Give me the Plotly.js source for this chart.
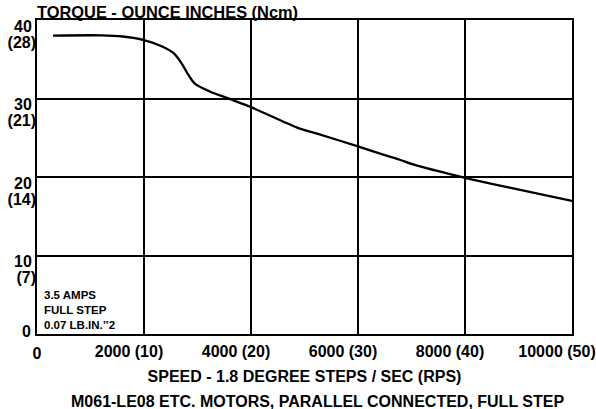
<!DOCTYPE html>
<html>
<head>
<meta charset="utf-8">
<script src="https://cdn.plot.ly/plotly-3.0.1.min.js"></script>
<style>html,body{margin:0;padding:0;background:#fff;}#chart{width:596px;height:409px;}</style>
</head>
<body>
<div id="chart"></div>
<script>
// Data
const speedSteps = [300, 1200, 1600, 2000, 2350, 2550, 2700, 2830, 2950, 3230, 3600, 4000, 4900, 5220, 6000, 6400, 6780, 7030, 8000, 8900, 10000];
const torqueOzIn = [38.0, 38.05, 37.9, 37.45, 36.6, 35.8, 34.5, 33.0, 31.9, 30.9, 29.95, 28.9, 26.2, 25.55, 23.9, 23.0, 22.2, 21.6, 19.9, 18.55, 16.95];

const xTickVals = [2000, 4000, 6000, 8000, 10000];
const xTickText = ["2000 (10)", "4000 (20)", "6000 (30)", "8000 (40)", "10000 (50)"];
const xZeroVal = [0];
const xZeroText = ["0"];

const yTickVals = [10, 20, 30, 40];
const yTickOz = ["10", "20", "30", "40"];
const yTickNcm = ["(7)", "(14)", "(21)", "(28)"];
const yZeroVal = [0];
const yZeroText = ["0"];

const noteLines = ["3.5 AMPS", "FULL STEP", "0.07 LB.IN.\u2019\u20192"];
const titleText = "TORQUE - OUNCE INCHES (Ncm)";
const xTitleText = "SPEED - 1.8 DEGREE STEPS / SEC (RPS)";
const subTitleText = "M061-LE08 ETC. MOTORS, PARALLEL CONNECTED, FULL STEP";

const FONT = "Arial, 'Liberation Sans', sans-serif";
const bold16 = {family: FONT, size: 16, color: "#000", weight: 700};

const traces = [
  {x: speedSteps, y: torqueOzIn, type: "scatter", mode: "lines",
   line: {color: "#000", width: 2.3, shape: "spline", smoothing: 0.9},
   hoverinfo: "skip", showlegend: false},
  {x: [], y: [], xaxis: "x2", yaxis: "y2", type: "scatter", mode: "lines", showlegend: false, hoverinfo: "skip"},
  {x: [], y: [], xaxis: "x", yaxis: "y3", type: "scatter", mode: "lines", showlegend: false, hoverinfo: "skip"}
];

const baseX = {range: [0, 10000], fixedrange: true, zeroline: false, ticks: "", tickfont: bold16};
const baseY = {range: [0, 40], fixedrange: true, zeroline: false, ticks: "", tickfont: bold16};

const layout = {
  width: 596, height: 409,
  margin: {l: 37, r: 24, t: 20, b: 75, pad: 0},
  paper_bgcolor: "#fff", plot_bgcolor: "#fff",
  showlegend: false,
  font: {family: FONT, color: "#000"},
  title: {text: titleText, font: {family: FONT, size: 16.4, color: "#000", weight: 700},
          xref: "container", yref: "container",
          x: 37 / 596, xanchor: "left", y: 1 - 12 / 409, yanchor: "middle", pad: {t: 0, b: 0, l: 0, r: 0}},
  xaxis: Object.assign({}, baseX, {
    tickmode: "array", tickvals: xTickVals, ticktext: xTickText, ticklabelshift: -15, ticklabelstandoff: 2,
    showgrid: true, gridcolor: "#000", gridwidth: 2,
    showline: true, linecolor: "#000", linewidth: 2, mirror: true,
    anchor: "y",
    title: {text: xTitleText, font: bold16, standoff: 12}
  }),
  xaxis2: Object.assign({}, baseX, {
    overlaying: "x", anchor: "y", side: "bottom",
    tickmode: "array", tickvals: xZeroVal, ticktext: xZeroText, ticklabelstandoff: 8,
    showgrid: false, showline: false
  }),
  yaxis: Object.assign({}, baseY, {
    tickmode: "array", tickvals: yTickVals, ticktext: yTickOz, ticklabelshift: 6,
    showgrid: true, gridcolor: "#000", gridwidth: 2,
    showline: true, linecolor: "#000", linewidth: 2, mirror: true,
    anchor: "x"
  }),
  yaxis2: Object.assign({}, baseY, {
    overlaying: "y", anchor: "x", side: "left",
    tickmode: "array", tickvals: yTickVals, ticktext: yTickNcm, ticklabelshift: 22,
    showgrid: false, showline: false
  }),
  yaxis3: Object.assign({}, baseY, {
    overlaying: "y", anchor: "x", side: "left",
    tickmode: "array", tickvals: yZeroVal, ticktext: yZeroText, ticklabelshift: -3, ticklabelstandoff: 5,
    showgrid: false, showline: false
  }),
  annotations: [
    {text: noteLines.join("<br>"), xref: "paper", yref: "paper",
     x: 5 / 535.5, xanchor: "left", y: 24 / 314, yanchor: "middle", align: "left",
     showarrow: false, font: {family: FONT, size: 11.5, color: "#000", weight: 700}},
    {text: subTitleText, xref: "paper", yref: "paper",
     x: (318 - 37) / 535.5, xanchor: "center", y: -(401 - 334) / 314, yanchor: "middle",
     showarrow: false, font: bold16}
  ]
};

Plotly.newPlot("chart", traces, layout, {displayModeBar: false, staticPlot: true});
</script>
</body>
</html>
